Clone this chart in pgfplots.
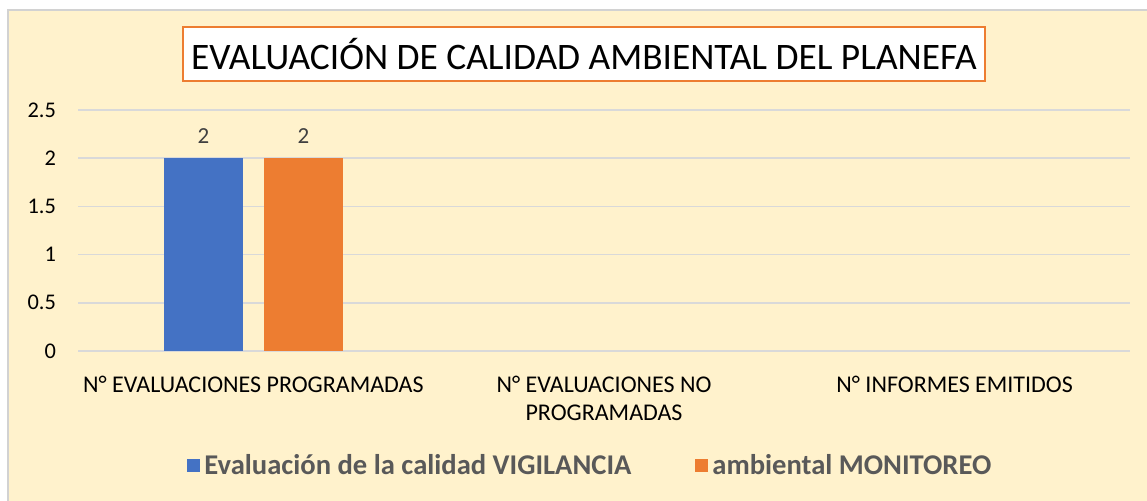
\documentclass[border=0pt]{standalone}
\usepackage{pgfplots}
\pgfplotsset{compat=1.18}
\usepackage{fontspec}
\setmainfont{Carlito}

\definecolor{bgbeige}{HTML}{FFF2CC}
\definecolor{xlblue}{HTML}{4472C4}
\definecolor{xlorange}{HTML}{ED7D31}
\definecolor{gridgray}{HTML}{D9D9D9}
\definecolor{legtext}{HTML}{595959}
\definecolor{lbltext}{HTML}{404040}

\begin{document}
\begin{tikzpicture}[x=0.5pt,y=0.5pt]
  % canvas (1 unit = 1 px of the reference)
  \path[use as bounding box] (0,0) rectangle (1147,501);
  \fill[white] (0,0) rectangle (1147,501);
  \fill[bgbeige] (8,0) rectangle (1147,491);
  \draw[gray!35, line width=0.75pt] (8,0) -- (8,491) -- (1147,491);

  \begin{axis}[
    at={(39pt,75pt)}, anchor=south west,
    scale only axis,
    width=526pt, height=120.5pt,
    ybar, bar width=39.5pt, ybar=10.5pt,
    ymin=0, ymax=2.5,
    ytick={0,0.5,1,1.5,2,2.5},
    yticklabels={0,0.5,1,1.5,2,2.5},
    xmin=-0.5, xmax=2.5,
    xtick={0,1,2},
    xticklabels={N° EVALUACIONES PROGRAMADAS,N° EVALUACIONES NO\\PROGRAMADAS,N° INFORMES EMITIDOS},
    axis line style={draw=none},
    tick style={draw=none},
    ymajorgrids,
    grid style={gridgray, line width=0.75pt},
    /pgf/number format/assume math mode=true,
    yticklabel style={font=\fontsize{11.2}{13}\selectfont, text=black, xshift=-7.5pt},
    xticklabel style={font=\fontsize{12}{14}\selectfont, text=black, align=center, yshift=-5pt},
    nodes near coords,
    nodes near coords style={font=\fontsize{11.5}{13}\selectfont, text=lbltext, yshift=4pt},
    legend style={at={(0.488,-0.477)}, anchor=center, draw=none, fill=none,
      legend columns=2, font=\fontsize{14.3}{17}\selectfont\bfseries, text=legtext,
      /tikz/every even column/.append style={column sep=30pt},
      nodes={inner xsep=2pt},
      inner xsep=0pt},
    legend image code/.code={\fill[#1] (0pt,-3.25pt) rectangle (6.5pt,3.25pt);},
  ]
    \addplot[fill=xlblue, draw=none] coordinates {(0,2)};
    \addplot[fill=xlorange, draw=none] coordinates {(0,2)};
    \legend{Evaluación de la calidad VIGILANCIA, ambiental MONITOREO}
  \end{axis}

  % chart title in its box
  \node[draw=xlorange, line width=1.25pt, fill=white, minimum width=401pt,
        minimum height=27pt, inner sep=0pt,
        font=\fontsize{18.7}{22}\selectfont] at (584,447)
        {EVALUACIÓN DE CALIDAD AMBIENTAL DEL PLANEFA};
\end{tikzpicture}
\end{document}
